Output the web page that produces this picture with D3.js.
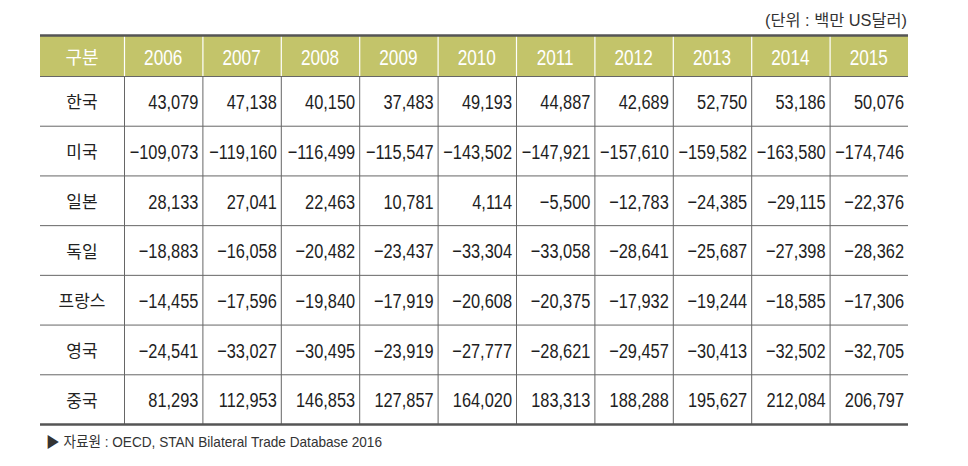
<!DOCTYPE html>
<html><head><meta charset="utf-8">
<script src="https://cdn.jsdelivr.net/npm/d3@7"></script>
<style>
html,body{margin:0;padding:0;background:#fff;}
svg{display:block;}
</style></head>
<body>
<svg id="chart" width="968" height="466"></svg>
<script>
const years = ["2006","2007","2008","2009","2010","2011","2012","2013","2014","2015"];
const countries = ["한국","미국","일본","독일","프랑스","영국","중국"];
const korea   = [43079, 47138, 40150, 37483, 49193, 44887, 42689, 52750, 53186, 50076];
const usa     = [-109073, -119160, -116499, -115547, -143502, -147921, -157610, -159582, -163580, -174746];
const japan   = [28133, 27041, 22463, 10781, 4114, -5500, -12783, -24385, -29115, -22376];
const germany = [-18883, -16058, -20482, -23437, -33304, -33058, -28641, -25687, -27398, -28362];
const france  = [-14455, -17596, -19840, -17919, -20608, -20375, -17932, -19244, -18585, -17306];
const uk      = [-24541, -33027, -30495, -23919, -27777, -28621, -29457, -30413, -32502, -32705];
const china   = [81293, 112953, 146853, 127857, 164020, 183313, 188288, 195627, 212084, 206797];
const headerLabel = "구분";
const unitNote = "(단위 : 백만 US달러)";
const sourceNote = "▶ 자료원 : OECD, STAN Bilateral Trade Database 2016";

const rows = [korea, usa, japan, germany, france, uk, china];

(function draw() {
const svg = d3.select("#chart");
const tLeft = 40, firstColRight = 124, tRight = 908;
const tTop = 36, headerBottom = 76, tBottom = 424;

const x = d3.scaleBand().domain(years).range([firstColRight, tRight]);
const y = d3.scaleBand().domain(countries).range([headerBottom, tBottom]);

const numFont = "'Liberation Sans',Arial,sans-serif";
const korFont = "'Noto Sans CJK KR','Noto Sans',sans-serif";
const mixFont = "'Liberation Sans','Noto Sans CJK KR',sans-serif";
const fmt = d3.format(",");
const fmtVal = v => fmt(v).replace(/[-−]/, "−");
const sx = 0.78;

svg.append("rect").attr("x", tLeft).attr("y", tTop).attr("width", tRight - tLeft)
  .attr("height", headerBottom - tTop).attr("fill", "#c3c46a");

svg.selectAll("line.hsep").data(years).enter().append("line")
  .attr("x1", d => x(d) + 0.5).attr("x2", d => x(d) + 0.5)
  .attr("y1", tTop).attr("y2", headerBottom)
  .attr("stroke", "#ffffff").attr("stroke-width", 1.2);

svg.append("text").attr("x", (tLeft + firstColRight) / 2).attr("y", (tTop + headerBottom) / 2)
  .attr("text-anchor", "middle").attr("dominant-baseline", "central")
  .attr("font-family", korFont).attr("font-size", 18).attr("fill", "#fff").text(headerLabel);
svg.selectAll("text.year").data(years).enter().append("text")
  .attr("transform", d => `translate(${x(d) + x.bandwidth() / 2},${(tTop + headerBottom) / 2 + 1}) scale(${sx},1)`)
  .attr("text-anchor", "middle").attr("dominant-baseline", "central")
  .attr("font-family", numFont).attr("font-size", 22).attr("fill", "#fff").text(d => d);

svg.selectAll("line.rowline").data(countries).enter().append("line")
  .attr("x1", tLeft).attr("x2", tRight)
  .attr("y1", d => y(d) + 0.5).attr("y2", d => y(d) + 0.5)
  .attr("stroke", "#666").attr("stroke-width", 1);

svg.selectAll("line.vsep").data(years).enter().append("line")
  .attr("x1", d => x(d) + 0.5).attr("x2", d => x(d) + 0.5)
  .attr("y1", headerBottom).attr("y2", tBottom)
  .attr("stroke", "#666").attr("stroke-width", 1);

svg.append("line").attr("x1", tLeft).attr("x2", tRight).attr("y1", tTop - 0.5).attr("y2", tTop - 0.5)
  .attr("stroke", "#555").attr("stroke-width", 2.5);
svg.append("line").attr("x1", tLeft).attr("x2", tRight).attr("y1", tBottom + 0.5).attr("y2", tBottom + 0.5)
  .attr("stroke", "#555").attr("stroke-width", 2.5);

svg.selectAll("text.country").data(countries).enter().append("text")
  .attr("x", (tLeft + firstColRight) / 2).attr("y", d => y(d) + y.bandwidth() / 2)
  .attr("text-anchor", "middle").attr("dominant-baseline", "central")
  .attr("font-family", korFont).attr("font-size", 17).attr("fill", "#222").text(d => d);

const cells = [];
rows.forEach((vals, i) => vals.forEach((v, j) => cells.push({c: countries[i], yr: years[j], v})));
svg.selectAll("text.val").data(cells).enter().append("text")
  .attr("transform", d => `translate(${x(d.yr) + x.bandwidth() - 4},${y(d.c) + y.bandwidth() / 2 + 1}) scale(${sx},1)`)
  .attr("text-anchor", "end").attr("dominant-baseline", "central")
  .attr("font-family", numFont).attr("font-size", 21).attr("fill", "#1e1e1e")
  .text(d => fmtVal(d.v));

svg.append("text").attr("x", 907).attr("y", 20).attr("text-anchor", "end")
  .attr("dominant-baseline", "central").attr("font-family", mixFont)
  .attr("font-size", 16).attr("fill", "#333")
  .attr("textLength", 142).attr("lengthAdjust", "spacingAndGlyphs").text(unitNote);
svg.append("text").attr("x", 46).attr("y", 441)
  .attr("dominant-baseline", "central").attr("font-family", mixFont)
  .attr("font-size", 15).attr("fill", "#333")
  .attr("textLength", 336).attr("lengthAdjust", "spacingAndGlyphs").text(sourceNote);
})();
</script>
</body></html>
